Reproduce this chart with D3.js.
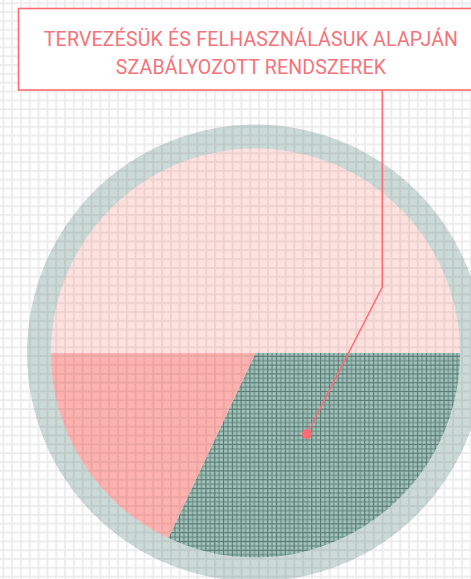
<!DOCTYPE html>
<html>
<head>
<meta charset="utf-8">
<script src="https://cdn.jsdelivr.net/npm/d3@7"></script>
<style>
  html, body { margin: 0; padding: 0; background: #fff; }
  svg { display: block; }
</style>
</head>
<body>
<svg id="chart" width="471" height="579"></svg>
<script>
// ---- data ----
const categories = ["Egyéb", "Tervezésük és felhasználásuk alapján szabályozott rendszerek", "Más"];
const values = [50, 32, 18];
const titleLines = ["TERVEZÉSÜK ÉS FELHASZNÁLÁSUK ALAPJÁN", "SZABÁLYOZOTT RENDSZEREK"];
const highlighted = 1;

const W = 471, H = 579;
const svg = d3.select("#chart");
const defs = svg.append("defs");
const G = 8.82, off = 3.3;

// fine plaid for highlighted slice
const plaid = defs.append("pattern").attr("id", "plaid")
  .attr("patternUnits", "userSpaceOnUse").attr("width", G).attr("height", G)
  .attr("x", off - 0.5).attr("y", off - 0.5);
plaid.append("rect").attr("width", G).attr("height", G).attr("fill", "#a2c3bb");
[0, G / 2].forEach(o => {
  plaid.append("rect").attr("x", o).attr("y", 0).attr("width", 1).attr("height", G).attr("fill", "#5f837b");
  plaid.append("rect").attr("x", 0).attr("y", o).attr("width", G).attr("height", 1).attr("fill", "#5f837b");
});

// background grid overlay
const grid = defs.append("pattern").attr("id", "grid")
  .attr("patternUnits", "userSpaceOnUse").attr("width", G).attr("height", G)
  .attr("x", off - 1).attr("y", off - 1);
grid.append("rect").attr("x", 0).attr("y", 0).attr("width", 2).attr("height", G).attr("fill", "rgba(0,0,0,0.07)");
grid.append("rect").attr("x", 2).attr("y", 0).attr("width", G - 2).attr("height", 2).attr("fill", "rgba(0,0,0,0.07)");

svg.append("rect").attr("width", W).attr("height", H).attr("fill", "#fff");

const cx = 255.5, cy = 353, r = 204.5, ringR = 228.5;
const g = svg.append("g").attr("transform", `translate(${cx},${cy})`);
g.append("circle").attr("r", ringR).attr("fill", "#cddbd8");

const pie = d3.pie().sort(null).value(d => d).startAngle(-Math.PI / 2).endAngle(1.5 * Math.PI);
const arcs = pie(values);
const arc = d3.arc().innerRadius(0).outerRadius(r);
const colors = ["#ffe2df", "url(#plaid)", "#ffb3b0"];
g.selectAll("path.slice").data(arcs).join("path").attr("class", "slice")
  .attr("d", arc).attr("fill", (d, i) => colors[i]);

// grid over everything
svg.append("rect").attr("width", W).attr("height", H).attr("fill", "url(#grid)");

// title box
const red = "#ff6b72";
svg.append("rect").attr("x", 18.5).attr("y", 8.5).attr("width", 470).attr("height", 81.5)
  .attr("fill", "#fff").attr("stroke", red).attr("stroke-width", 1.6);
svg.append("text").attr("x", 251).attr("y", 46)
  .attr("text-anchor", "middle").attr("fill", "#f5737a")
  .style("font-family", "Roboto").style("font-size", "19.5px").style("letter-spacing", "0.2px")
  .selectAll("tspan").data(titleLines).join("tspan")
  .attr("x", 251).attr("dy", (d, i) => i === 0 ? 0 : 28).text(d => d);

// leader line to highlighted slice
const dot = [307, 434];
const bend = [382.3, 287];
svg.append("path")
  .attr("d", d3.line()([[bend[0], 90], bend, dot]))
  .attr("fill", "none").attr("stroke", red).attr("stroke-width", 1.5);
svg.append("circle").attr("cx", dot[0]).attr("cy", dot[1]).attr("r", 5).attr("fill", red);
</script>
</body>
</html>
